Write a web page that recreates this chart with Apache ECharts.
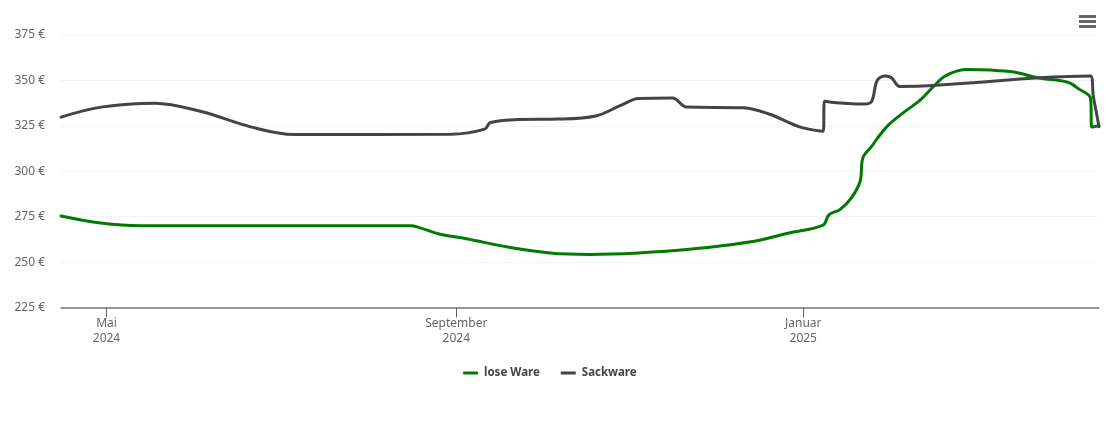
<!DOCTYPE html>
<html>
<head>
<meta charset="utf-8">
<style>html,body{margin:0;padding:0;background:#fff}#chart{width:1110px;height:422px}</style>
<script src="https://cdn.jsdelivr.net/npm/echarts@6/dist/echarts.min.js"></script>
</head>
<body>
<div id="chart"></div>
<script>
var tickDates = ['2024-05-01', '2024-09-01', '2025-01-01'];
var tickLabels = ['Mai\n2024', 'September\n2024', 'Januar\n2025'];

var loseDates = ['2024-04-15','2024-04-29','2024-05-13','2024-06-20','2024-08-16','2024-08-19','2024-08-26','2024-09-05','2024-09-19','2024-10-04','2024-10-18','2024-11-04','2024-11-22','2024-12-13','2024-12-27','2025-01-08','2025-01-10','2025-01-14','2025-01-18','2025-01-21','2025-01-22','2025-01-25','2025-01-27','2025-01-31','2025-02-05','2025-02-11','2025-02-16','2025-02-20','2025-02-27','2025-03-08','2025-03-16','2025-03-25','2025-04-04','2025-04-08','2025-04-12','2025-04-12 12:00','2025-04-15'];
var loseValues = [275.4,271.5,270,270,270,269,265.5,262.7,258.3,255,254.2,255,257,261,266,270.4,276,279,285.5,294.5,307.5,313.5,318,325.5,332,339,347,352.5,356,355.7,354.6,351.3,349,345.2,340.3,324.3,325];

var sackDates = ['2024-04-15','2024-04-29','2024-05-18','2024-06-03','2024-06-21','2024-07-06','2024-08-30','2024-09-11','2024-09-13','2024-09-23','2024-10-07','2024-10-20','2024-10-29','2024-11-04','2024-11-16','2024-11-21','2024-12-11','2024-12-20','2024-12-31','2025-01-08','2025-01-08 12:00','2025-01-12','2025-01-22','2025-01-25','2025-01-27','2025-01-30','2025-02-01','2025-02-04','2025-02-14','2025-03-04','2025-03-25','2025-04-12','2025-04-13','2025-04-14','2025-04-15'];
var sackValues = [329.8,335.3,337.5,333,324.3,320.2,320.4,323.2,326.8,328.5,328.7,330.4,336.4,340,340.3,335.3,335,331.5,324.3,322,338.6,337.8,337,338.3,350,352.5,351.5,346.7,347,349,351.5,352.5,341.3,333,324.5];

function toTime(d) {
  return +echarts.time.parse(d);
}
function pairs(dates, values) {
  return dates.map(function (d, i) { return [toTime(d), values[i]]; });
}

var tickTimes = tickDates.map(toTime);
var chart = echarts.init(document.getElementById('chart'));
var option = {
  animation: false,
  backgroundColor: '#fff',
  textStyle: { fontFamily: '"Noto Sans", "Open Sans", sans-serif' },
  grid: { left: 61, right: 11, top: 35, bottom: 114.5 },
  xAxis: {
    type: 'value',
    min: toTime('2024-04-15'),
    max: toTime('2025-04-15'),
    axisLine: { lineStyle: { color: '#777', width: 1.5 } },
    axisTick: { customValues: tickTimes, length: 10, lineStyle: { color: '#666' } },
    axisLabel: {
      customValues: tickTimes,
      color: '#666',
      fontSize: 12,
      lineHeight: 15,
      margin: 9,
      hideOverlap: false,
      formatter: function (value) {
        return tickLabels[tickTimes.indexOf(value)];
      }
    },
    splitLine: { show: false }
  },
  yAxis: {
    type: 'value',
    min: 225,
    max: 375,
    interval: 25,
    axisLine: { show: false },
    axisTick: { show: false },
    axisLabel: { color: '#666', fontSize: 12, margin: 16, verticalAlign: 'middle', padding: [6, 0, 0, 0], formatter: '{value} €' },
    splitLine: { lineStyle: { color: '#e6e6e6', type: 'dotted', width: 1 } }
  },
  legend: {
    left: 458,
    top: 362,
    icon: 'roundRect',
    itemWidth: 15,
    itemHeight: 3,
    itemGap: 21,
    itemStyle: { borderWidth: 0 },
    textStyle: { color: '#444', fontSize: 11.5, fontWeight: 'bold', padding: [0, 0, 0, 1] },
    data: ['lose Ware', 'Sackware']
  },
  toolbox: {
    right: -1,
    top: 0,
    itemSize: 17,
    feature: {
      myMenu: {
        show: true,
        title: '',
        icon: 'path://M0,0H17V3H0Z M0,5H17V8H0Z M0,10H17V13H0Z',
        iconStyle: { color: '#666', borderWidth: 0 },
        onclick: function () {}
      }
    }
  },
  series: [
    {
      name: 'lose Ware',
      type: 'line',
      data: pairs(loseDates, loseValues),
      smooth: 0.35,
      showSymbol: false,
      symbol: 'none',
      lineStyle: { color: '#007a00', width: 3, cap: 'round' },
      itemStyle: { color: '#007a00' }
    },
    {
      name: 'Sackware',
      type: 'line',
      data: pairs(sackDates, sackValues),
      smooth: 0.35,
      showSymbol: false,
      symbol: 'none',
      lineStyle: { color: '#434348', width: 3, cap: 'round' },
      itemStyle: { color: '#434348' }
    }
  ]
};
chart.setOption(option);
</script>
</body>
</html>
